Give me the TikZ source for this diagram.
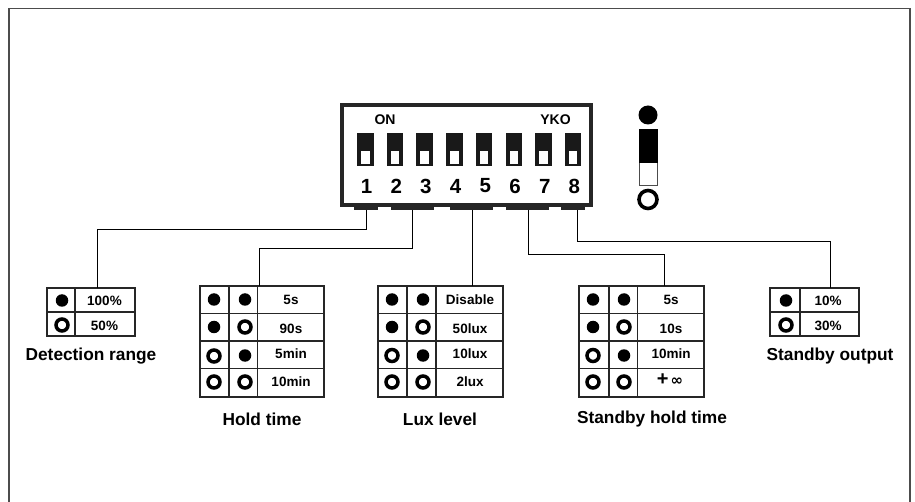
\documentclass[tikz,border=0pt]{standalone}
\usepackage{fontspec}
\setmainfont{Liberation Sans}
\usepackage{tikz}
\usetikzlibrary{positioning, calc}

\tikzset{
    frameline/.style={draw=black!70, line width=1.2pt},
    wire/.style={draw=black, line width=1pt},
    dipbody/.style={draw=black!85, line width=3.4pt},
    cellline/.style={draw=black!85, line width=1.3pt},
    leg/.style={fill=black!85},
    full/.style={circle, fill=black, inner sep=0pt, minimum size=12.5pt},
    hollow/.style={circle, draw=black, line width=3.5pt, fill=white, inner sep=0pt, minimum size=12pt},
    value/.style={font=\bfseries\fontsize{13.5}{15}\selectfont, inner sep=0pt},
    caption/.style={font=\bfseries\fontsize{17.3}{19}\selectfont, inner sep=0pt},
    dipnum/.style={font=\bfseries\fontsize{20.5}{22}\selectfont, inner sep=0pt},
    diptag/.style={font=\bfseries\fontsize{14}{16}\selectfont, inner sep=0pt}
}

\begin{document}
\begin{tikzpicture}[x=1pt,y=-1pt]
    \useasboundingbox (0,0) rectangle (915,502);
    \draw[frameline] (9,502) |- (910,8.5) -- (910,502);

    % DIP SWITCH
    \draw[dipbody] (342,105) rectangle (591,205);
    \foreach \n in {1,...,8} {
        \path[fill=black!90] ({357+29.7*(\n-1)},133) rectangle ({373.5+29.7*(\n-1)},166);
        \path[fill=white] ({361+29.7*(\n-1)},151) rectangle ({369.5+29.7*(\n-1)},164.5);
        \node[dipnum] (num\n) at ({366.5+29.7*(\n-1)},186) {\n};
    }
    \node[diptag] (on) at (385,120) {ON};
    \node[diptag] (yko) at (555.5,120) {YKO};

    % LEGS
    \foreach \name/\a/\b in {legA/354/378, legB/391/433.5, legC/450/493, legD/506/548.5, legE/561/585}
        \path[leg] (\a,206) rectangle (\b,210.5);
    \coordinate (pinA) at (366,210);
    \coordinate (pinB) at (412,210);
    \coordinate (pinC) at (472,210);
    \coordinate (pinD) at (528,210);
    \coordinate (pinE) at (577,210);

    % SWITCH KEY
    \node[full, minimum size=19pt] (keyon) at (648,115) {};
    \draw[draw=black!70, line width=1pt] (639,130) rectangle (657,186);
    \path[fill=black] (638.5,129) rectangle (657.5,163);
    \node[hollow, line width=3.6pt, minimum size=18pt] (keyoff) at (648,199.5) {};

    % TABLES
    \foreach \xa/\xb/\xd in {
        47/75/135,
        770/800/859} {
        \draw[cellline] (\xa,288) rectangle (\xd,336);
        \draw[cellline] (\xb,288) -- (\xb,336);
        \draw[cellline] (\xa,312) -- (\xd,312);
    }
    \foreach \xa/\xb/\xc/\xd in {
        200/229/257.5/324,
        378/407/436/503,
        579/609/637.5/704} {
        \draw[cellline] (\xa,286) rectangle (\xd,397);
        \draw[cellline] (\xb,286) -- (\xb,397);
        \draw[cellline] (\xc,286) -- (\xc,397);
        \foreach \y in {313.5,341,368.5}
            \draw[cellline] (\xa,\y) -- (\xd,\y);
    }

    % DOTS, ONE ROW AT A TIME
    \foreach \x/\y/\m in {
        62/300.5/full, 62/325/hollow,
        786/300.5/full, 786/325/hollow,
        214/299.5/full, 245/299.5/full,
        214/327/full, 245/327/hollow,
        214/356/hollow, 245/355.5/full,
        214/382/hollow, 245/382/hollow,
        392/299.5/full, 423/299.5/full,
        392/327/full, 423/327/hollow,
        392/355.5/hollow, 423/355.5/full,
        392/382/hollow, 423/382/hollow,
        593/299.5/full, 624/299.5/full,
        593/327/full, 624/327/hollow,
        593/355.5/hollow, 624/355.5/full,
        593/382/hollow, 624/382/hollow}
        \node[\m] at (\x,\y) {};

    % VALUES
    \foreach \x/\y/\m in {
        104.5/300.5/100\%, 104.5/325.5/50\%,
        828/300.5/10\%, 828/325.5/30\%,
        291/300/5s, 291/328.5/90s, 291/353.5/5min, 291/381.5/10min,
        470/300/Disable, 470/329/50lux, 470/354/10lux, 470/381.5/2lux,
        671/300/5s, 671/328.5/10s, 671/353.5/10min}
        \node[value] at (\x,\y) {\m};
    \node[value] (inf) at (670,380) {\fontsize{20}{20}\selectfont+\hspace{2pt}\fontspec{DejaVu Sans}\fontsize{15}{15}\selectfont ∞};

    % TITLES
    \node[caption] (capA) at (91,356) {Detection range};
    \node[caption] (capB) at (262,419) {Hold time};
    \node[caption] (capC) at (440,419) {Lux level};
    \node[caption] (capD) at (652,419) {Standby hold time};
    \node[caption] (capE) at (830,356) {Standby output};

    % WIRES
    \coordinate (topA) at (97,288);
    \coordinate (topB) at (259,286);
    \coordinate (topC) at (472,286);
    \coordinate (topD) at (664,286);
    \coordinate (topE) at (830,288);
    \draw[wire] (pinA) |- (97,230) -- (topA);
    \draw[wire] (pinB) |- (259,249) -- (topB);
    \draw[wire] (pinC) -- (topC);
    \draw[wire] (pinD) |- (664,255) -- (topD);
    \draw[wire] (pinE) |- (830,242) -- (topE);
\end{tikzpicture}
\end{document}
